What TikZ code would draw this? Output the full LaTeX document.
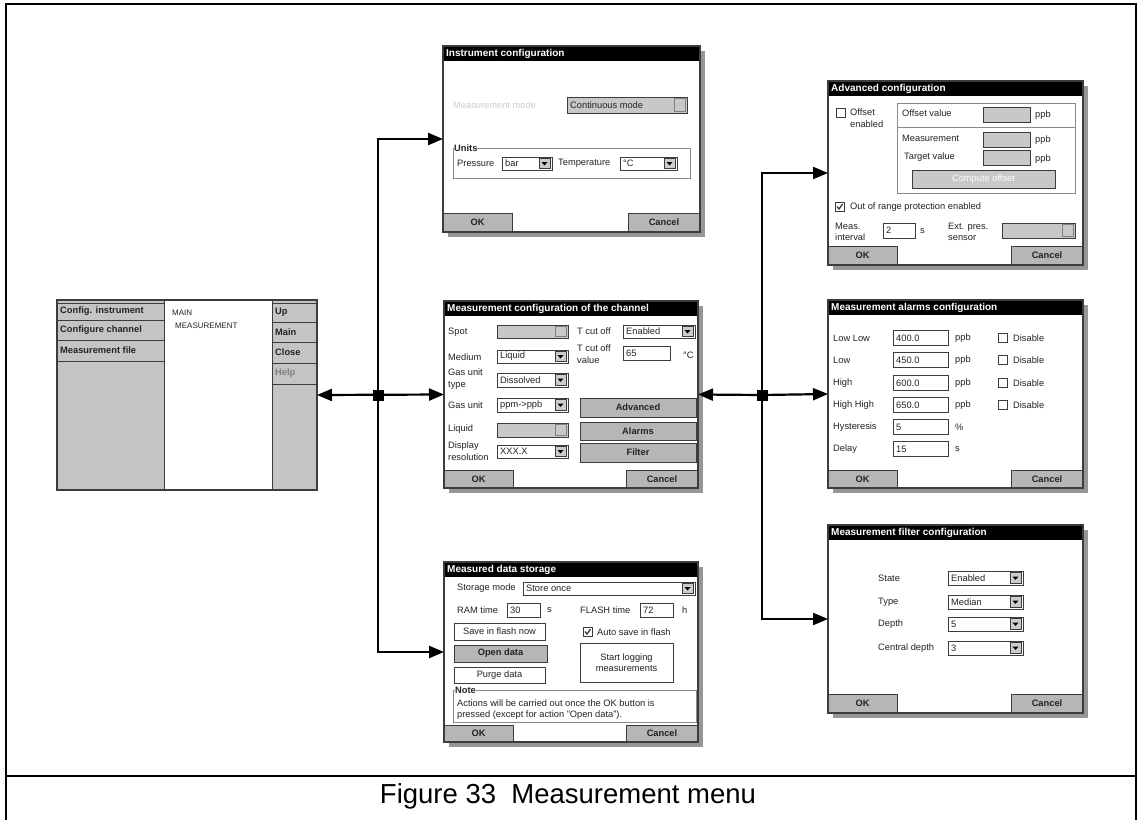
\documentclass[tikz,border=0pt]{standalone}
\usepackage{fontspec}
\setmainfont{Liberation Sans}
\usetikzlibrary{arrows.meta}
\definecolor{btn}{RGB}{182,182,182}
\definecolor{dis}{RGB}{200,200,200}
\definecolor{shd}{RGB}{150,150,150}
\definecolor{edge}{RGB}{60,60,60}
\definecolor{faint}{RGB}{205,205,205}
\definecolor{txt}{RGB}{35,35,35}
\definecolor{mgrey}{RGB}{196,196,196}
\newcount\wno
\tikzset{
 lab/.style={inner sep=0pt, font=\fontsize{9.3}{11.5}\selectfont, text=txt, align=left},
 btxt/.style={font=\fontsize{9.3}{11}\selectfont\bfseries},
 fldb/.style={draw=edge, line width=0.8pt},
 bbox/.style={draw=edge, line width=0.9pt, fill=btn},
 dlg/.style={draw=edge, line width=1.6pt, fill=white, inner sep=0pt, outer sep=0pt},
 ttl/.style={inner sep=0pt, text=white, font=\fontsize{10}{12}\selectfont\bfseries},
 conn/.style={draw=black, line width=2.2pt},
 conntip/.style={-{Triangle[length=15pt,width=12pt]}},
 junc/.style={fill=black, inner sep=0pt, minimum size=11pt, rectangle},
 outerline/.style={line width=2.6pt},
}
\newcommand\wLbl[4][]{\global\advance\wno1 \node[lab,anchor=west,#1] (w\the\wno) at (#2,#3) {#4};}
\newcommand\wCombo[6][white]{%
 \draw[fldb,fill=#1] (#2,#3) rectangle (#4,#5);
 \draw[fldb,fill=btn!70] (#4-13,#3+1.5) rectangle (#4-1.5,#5-1.5);
 \fill[black] (#4-10.5,{(#3+#5)/2-1.5}) -- (#4-4.5,{(#3+#5)/2-1.5}) -- (#4-7.5,{(#3+#5)/2+2}) -- cycle;
 \wLbl{#2+3}{{(#3+#5)/2}}{#6}}
\newcommand\wDCombo[5]{%
 \draw[fldb,fill=dis] (#1,#2) rectangle (#3,#4);
 \draw[fldb,draw=gray,fill=dis] (#3-13,#2+1.5) rectangle (#3-1.5,#4-1.5);
 \wLbl{#1+3}{{(#2+#4)/2}}{#5}}
\newcommand\wField[6][white]{\draw[fldb,fill=#1] (#2,#3) rectangle (#4,#5); \wLbl{#2+3}{{(#3+#5)/2}}{#6}}
\newcommand\wBtn[7][]{\draw[bbox,#1] (#2,#3) rectangle (#4,#5); \global\advance\wno1 \node[lab,align=center,#6] (w\the\wno) at ({(#2+#4)/2},{(#3+#5)/2}) {#7};}
\newcommand\wChk[3]{\draw[fldb,fill=white] (#1,#2) rectangle (#1+9,#2+9); \ifnum#3=1 \draw[line width=1.3pt,edge] (#1+2,#2+4.5) -- (#1+4,#2+7) -- (#1+7.5,#2+2);\fi}
\newcommand\wOkc[3]{\wBtn{0}{#2}{69}{#3}{btxt}{OK}\wBtn{#1-72}{#2}{#1}{#3}{btxt}{Cancel}}
\newcommand\wFrame[4]{%
 \fill[shd] (5,5) rectangle (#2+5,#3+5);
 \node[dlg,minimum width=#2pt,minimum height=#3pt,anchor=north west] (#1) at (0,0) {};
 \fill[black] (0,0) rectangle (#2,15);
 \global\advance\wno1 \node[ttl,anchor=west] (w\the\wno) at (3,8) {#4};}
\newcommand\wEdge[1]{\draw[edge,line width=1.6pt] (#1.north west) rectangle (#1.south east);}
\newcommand\wMBtn[6]{\draw[edge,line width=0.9pt,fill=mgrey] (#1,#2) rectangle (#3,#4); \wLbl[btxt,#5]{#1+3}{{(#2+#4)/2}}{#6}}
\begin{document}
\begin{tikzpicture}[x=1pt,y=-1pt]
\useasboundingbox (0,0) rectangle (1140,819);
\fill[white] (0,0) rectangle (1140,819);
% outer frame
\draw[outerline] (6,822) -- (6,4) -- (1136,4) -- (1136,822);
\draw[outerline] (6,776) -- (1136,776);
\node[font=\fontsize{27.5}{30}\selectfont, anchor=base, inner sep=0pt] (cap) at (568,803) {Figure 33~ Measurement menu};

% main menu
\begin{scope}[shift={(57,300)}]
 \node[dlg,minimum width=260pt,minimum height=190pt,anchor=north west,line width=1.4pt] (menu) at (0,0) {};
 \fill[mgrey] (0,0) rectangle (107,190);
 \fill[mgrey] (215,0) rectangle (260,190);
 \draw[edge,line width=1pt] (107,0) -- (107,190) (215,0) -- (215,190);
 \wMBtn{0}{3}{107}{20}{}{Config. instrument}
 \wMBtn{0}{20}{107}{40}{}{Configure channel}
 \wMBtn{0}{40}{107}{61}{}{Measurement file}
 \wMBtn{215}{3}{260}{22}{}{Up}
 \wMBtn{215}{22}{260}{42}{}{Main}
 \wMBtn{215}{42}{260}{63}{}{Close}
 \wMBtn{215}{63}{260}{84}{text=gray}{Help}
 \wLbl[font=\fontsize{8}{9}\selectfont]{115}{13}{MAIN}
 \wLbl[font=\fontsize{8}{9}\selectfont]{118}{26}{MEASUREMENT}
 \wEdge{menu}
\end{scope}

% Instrument configuration
\begin{scope}[shift={(443,46)}]
 \wFrame{instr}{257}{186}{Instrument configuration}
 \wLbl[text=faint]{10}{59}{Measurement mode}
 \wDCombo{124}{51}{244}{67}{Continuous mode}
 \draw[edge!60,line width=0.8pt] (10,102) rectangle (247,132);
 \wLbl[btxt,fill=white]{11}{102}{Units}
 \wLbl{14}{117}{Pressure}
 \wCombo{59}{111}{109}{124}{bar}
 \wLbl{115}{117}{Temperature}
 \wCombo{177}{111}{234}{124}{°C}
 \wOkc{257}{167}{186}
 \wEdge{instr}
\end{scope}

% Measurement configuration of the channel
\begin{scope}[shift={(444,301)}]
 \wFrame{meas}{254}{187}{Measurement configuration of the channel}
 \wLbl{4}{31}{Spot}
 \wDCombo{53}{24}{124}{37}{}
 \wLbl{133}{30}{T cut off}
 \wCombo{179}{24}{251}{37}{Enabled}
 \wLbl{4}{56}{Medium}
 \wCombo{53}{49}{124}{62}{Liquid}
 \wLbl{133}{53}{T cut off\\value}
 \wField{179}{45}{226}{59}{65}
 \wLbl{239}{54}{°C}
 \wLbl{4}{78}{Gas unit\\type}
 \wCombo{53}{72}{124}{86}{Dissolved}
 \wLbl{4}{104}{Gas unit}
 \wCombo{53}{97}{124}{111}{ppm->ppb}
 \wBtn{136}{97}{252}{116}{btxt}{Advanced}
 \wLbl{4}{128}{Liquid}
 \wDCombo{53}{122}{124}{136}{}
 \wBtn{136}{121}{252}{139}{btxt}{Alarms}
 \wLbl{4}{150}{Display\\resolution}
 \wCombo{53}{144}{124}{157}{XXX.X}
 \wBtn{136}{142}{252}{161}{btxt}{Filter}
 \wOkc{254}{169}{187}
 \wEdge{meas}
\end{scope}

% Measured data storage
\begin{scope}[shift={(444,562)}]
 \wFrame{stor}{254}{180}{Measured data storage}
 \wLbl{13}{26}{Storage mode}
 \wCombo{79}{20}{251}{33}{Store once}
 \wLbl{13}{48}{RAM time}
 \wField{63}{41}{96}{55}{30}
 \wLbl{103}{48}{s}
 \wLbl{136}{48}{FLASH time}
 \wField{196}{41}{229}{55}{72}
 \wLbl{238}{48}{h}
 \wBtn[fill=white]{10}{61}{101}{78}{}{Save in flash now}
 \wChk{139}{65}{1}
 \wLbl{153}{70}{Auto save in flash}
 \wBtn{10}{83}{103}{100}{btxt}{Open data}
 \wBtn[fill=white]{136}{81}{229}{120}{}{Start logging\\measurements}
 \wBtn[fill=white]{10}{105}{101}{121}{}{Purge data}
 \draw[edge!60,line width=0.8pt] (9,128) rectangle (252,160);
 \wLbl[btxt,fill=white]{11}{128}{Note}
 \wLbl{13}{141}{Actions will be carried out once the OK button is}
 \wLbl{13}{153}{pressed (except for action "Open data").}
 \wOkc{254}{163}{180}
 \wEdge{stor}
\end{scope}

% Advanced configuration
\begin{scope}[shift={(828,81)}]
 \wFrame{adv}{255}{184}{Advanced configuration}
 \wChk{8}{27}{0}
 \wLbl{22}{37}{Offset\\enabled}
 \draw[edge!60,line width=0.8pt] (69,22) rectangle (247,112);
 \draw[edge!60,line width=0.8pt] (69,46) -- (247,46);
 \wLbl{74}{32}{Offset value}
 \wField[dis]{155}{26}{202}{41}{}
 \wLbl{207}{34}{ppb}
 \wLbl{74}{57}{Measurement}
 \wField[dis]{155}{51}{202}{66}{}
 \wLbl{207}{59}{ppb}
 \wLbl{76}{76}{Target value}
 \wField[dis]{155}{69}{202}{84}{}
 \wLbl{207}{78}{ppb}
 \wBtn[fill=dis]{84}{89}{227}{107}{text=white}{Compute offset}
 \wChk{7}{121}{1}
 \wLbl{22}{126}{Out of range protection enabled}
 \wLbl{7}{151}{Meas.\\interval}
 \wField{55}{142}{87}{157}{2}
 \wLbl{92}{150}{s}
 \wLbl{120}{151}{Ext. pres.\\sensor}
 \wDCombo{174}{142}{247}{157}{}
 \wOkc{255}{165}{184}
 \wEdge{adv}
\end{scope}

% Measurement alarms configuration
\begin{scope}[shift={(828,300)}]
 \wFrame{alarm}{255}{188}{Measurement alarms configuration}
 \foreach \yy/\ll/\vv/\uu in {38/Low Low/400.0/ppb, 60/Low/450.0/ppb, 83/High/600.0/ppb, 105/High High/650.0/ppb}{
  \wLbl{5}{\yy}{\ll}
  \wField{65}{\yy-7.5}{120}{\yy+7.5}{\vv}
  \wLbl{127}{\yy}{\uu}
  \wChk{170}{\yy-4.5}{0}
  \wLbl{185}{\yy}{Disable}
 }
 \wLbl{5}{127}{Hysteresis}
 \wField{65}{119.5}{120}{134.5}{5}
 \wLbl{127}{127}{\%}
 \wLbl{5}{149}{Delay}
 \wField{65}{141.5}{120}{156.5}{15}
 \wLbl{127}{149}{s}
 \wOkc{255}{170}{188}
 \wEdge{alarm}
\end{scope}

% Measurement filter configuration
\begin{scope}[shift={(828,525)}]
 \wFrame{filt}{255}{188}{Measurement filter configuration}
 \foreach \yy/\ll/\vv in {53/State/Enabled, 77/Type/Median, 99/Depth/5, 123/Central depth/3}{
  \wLbl{50}{\yy}{\ll}
  \wCombo{120}{\yy-7}{195}{\yy+7}{\vv}
 }
 \wOkc{255}{169}{188}
 \wEdge{filt}
\end{scope}

% connectors
\coordinate (j1) at (378,395);
\coordinate (j2) at (762,395);
\draw[conn,{Triangle[length=15pt,width=12pt]}-{Triangle[length=15pt,width=12pt]}] (menu.east) -- (meas.west);
\draw[conn,conntip] (j1) |- (instr.west);
\draw[conn,conntip] (j1) |- (stor.west);
\draw[conn,conntip] (j2) -- (meas.east);
\draw[conn,conntip] (j2) |- (adv.west);
\draw[conn,conntip] (j2) -- (alarm.west);
\draw[conn,conntip] (j2) |- (filt.west);
\node[junc] (j1box) at (j1) {};
\node[junc] (j2box) at (j2) {};
\end{tikzpicture}
\end{document}
